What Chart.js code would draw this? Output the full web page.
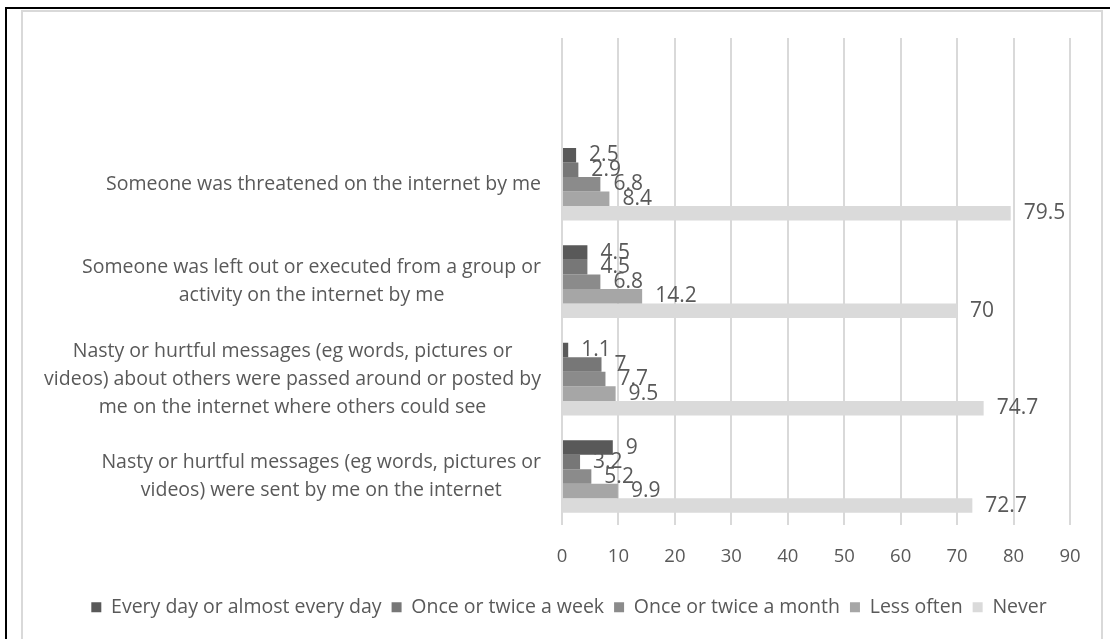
<!DOCTYPE html>
<html lang="en">
<head>
    <meta charset="UTF-8">
    <title>Cyberbullying behaviour frequency</title>
    <script src="https://cdn.jsdelivr.net/npm/chart.js"></script>
    <style>
        body {
            margin: 0;
            background: #ffffff;
            font-family: "Open Sans", sans-serif;
        }
        .outer {
            position: absolute;
            left: 5px;
            top: 7px;
            width: 1103px;
            height: 640px;
            border-left: 2px solid #000;
            border-top: 2px solid #000;
        }
        .frame {
            position: absolute;
            left: 21px;
            top: 10px;
            width: 1082px;
            height: 640px;
            border: 2px solid #d9d9d9;
            border-bottom: none;
            box-sizing: border-box;
        }
        .chart-box {
            position: absolute;
            left: 24px;
            top: 13px;
            width: 1079px;
            height: 626px;
        }
    </style>
</head>
<body>
<div class="outer"></div>
<div class="frame"></div>
<div class="chart-box">
    <canvas id="chart"></canvas>
</div>

<script>
    // categories, top to bottom (first slot left empty on purpose)
    const categories = [
        '',
        ['Someone was threatened on the internet by me'],
        ['Someone was left out or executed from a group or', 'activity on the internet by me'],
        ['Nasty or hurtful messages (eg words, pictures or', 'videos) about others were passed around or posted by', 'me on the internet where others could see'],
        ['Nasty or hurtful messages (eg words, pictures or', 'videos) were sent by me on the internet']
    ];

    const seriesNames = ['Every day or almost every day', 'Once or twice a week', 'Once or twice a month', 'Less often', 'Never'];

    const everyDay   = [null, 2.5, 4.5, 1.1, 9];
    const weekly     = [null, 2.9, 4.5, 7, 3.2];
    const monthly    = [null, 6.8, 6.8, 7.7, 5.2];
    const lessOften  = [null, 8.4, 14.2, 9.5, 9.9];
    const never      = [null, 79.5, 70, 74.7, 72.7];

    const xTicks = [0, 10, 20, 30, 40, 50, 60, 70, 80, 90];

    const colors = ['#595959', '#777777', '#8b8b8b', '#a6a6a6', '#dadada'];
    const textColor = '#595959';

    const values = [everyDay, weekly, monthly, lessOften, never];

    // value written just past the end of each bar
    const valueLabels = {
        id: 'valueLabels',
        afterDatasetsDraw(chart) {
            const ctx = chart.ctx;
            ctx.save();
            ctx.font = '21px "Open Sans"';
            ctx.fillStyle = textColor;
            ctx.textAlign = 'left';
            ctx.textBaseline = 'middle';
            chart.data.datasets.forEach((ds, i) => {
                chart.getDatasetMeta(i).data.forEach((bar, j) => {
                    const v = ds.data[j];
                    if (v == null) return;
                    ctx.fillText(String(v), bar.x + 13, bar.y);
                });
            });
            ctx.restore();
        }
    };

    // category text: each block right-aligned against the axis,
    // its lines centred inside the block
    const categoryLabels = {
        id: 'categoryLabels',
        afterDraw(chart) {
            const yScale = chart.scales.y;
            const ctx = chart.ctx;
            const lineGap = 28;
            const right = yScale.right - 21;
            ctx.save();
            ctx.font = '19.5px "Open Sans"';
            ctx.fillStyle = textColor;
            ctx.textAlign = 'center';
            ctx.textBaseline = 'middle';
            chart.data.labels.forEach((label, i) => {
                const lines = [].concat(label).filter(t => t);
                if (!lines.length) return;
                const w = Math.max(...lines.map(t => ctx.measureText(t).width));
                const cx = right - w / 2;
                const cy = yScale.getPixelForTick(i);
                lines.forEach((t, k) => {
                    ctx.fillText(t, cx, cy + (k - (lines.length - 1) / 2) * lineGap);
                });
            });
            ctx.restore();
        }
    };

    new Chart(document.getElementById('chart'), {
        type: 'bar',
        data: {
            labels: categories,
            datasets: values.map((d, i) => ({
                label: seriesNames[i],
                data: d,
                backgroundColor: colors[i],
                borderWidth: 0,
                categoryPercentage: 0.745,
                barPercentage: 1.0
            }))
        },
        options: {
            indexAxis: 'y',
            responsive: true,
            maintainAspectRatio: false,
            animation: false,
            layout: {
                padding: { top: 25, right: 33, bottom: 12, left: 44 }
            },
            plugins: {
                legend: {
                    position: 'bottom',
                    labels: {
                        boxWidth: 10,
                        boxHeight: 10,
                        padding: 10,
                        color: textColor,
                        font: { family: 'Open Sans', size: 19.5 }
                    }
                },
                tooltip: { enabled: false }
            },
            scales: {
                x: {
                    min: 0,
                    max: 90,
                    afterBuildTicks(scale) {
                        scale.ticks = xTicks.map(v => ({ value: v }));
                    },
                    grid: {
                        color: '#d9d9d9',
                        lineWidth: 2,
                        drawTicks: false
                    },
                    border: { display: false },
                    ticks: {
                        padding: 20,
                        color: textColor,
                        font: { family: 'Open Sans', size: 18.5 }
                    }
                },
                y: {
                    afterFit(scale) {
                        scale.width = 494;
                        scale.paddingTop = 0;
                        scale.paddingBottom = 0;
                    },
                    grid: { display: false, drawTicks: false },
                    border: { display: false },
                    ticks: { display: false }
                }
            }
        },
        plugins: [valueLabels, categoryLabels]
    });
</script>
</body>
</html>
